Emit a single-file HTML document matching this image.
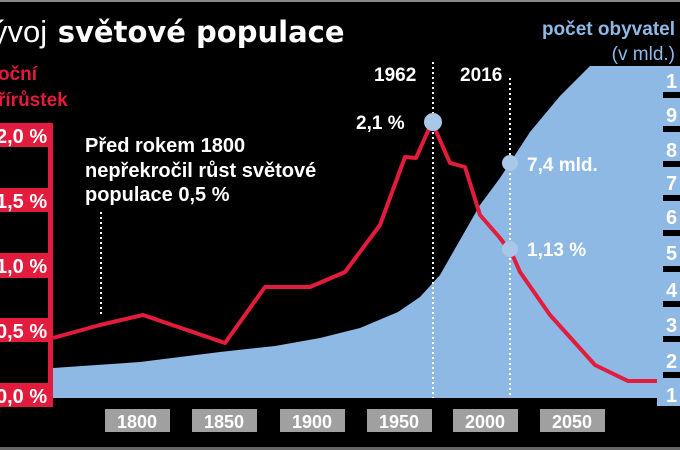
<!DOCTYPE html>
<html><head><meta charset="utf-8"><style>
body{margin:0;background:#000;}
svg{display:block;font-family:"Liberation Sans","DejaVu Sans",sans-serif;}
</style></head><body>
<svg width="680" height="450" viewBox="0 0 680 450">
<rect width="680" height="450" fill="#000"/>
<rect x="0" y="0" width="680" height="2" fill="#888"/>
<text x="-8" y="42" font-size="31" fill="#fff">ývoj <tspan font-weight="bold" font-family="DejaVu Sans" font-size="29" dx="2">světové populace</tspan></text>
<text x="-2" y="80" font-size="19" font-weight="bold" fill="#e31b3c">oční</text>
<text x="-2" y="106" font-size="19" font-weight="bold" fill="#e31b3c">řírůstek</text>
<text x="675" y="35" font-size="19" font-weight="bold" fill="#8db9e4" text-anchor="end">počet obyvatel</text>
<text x="675" y="60" font-size="19" fill="#8db9e4" text-anchor="end">(v mld.)</text>
<path d="M53,368 L140,362 L220,352 L275,346 L320,338 L360,328 L398,312 L420,297 L440,275 L460,240 L480,205 L500,178 L530,132 L560,96 L590,66 L680,66 L680,398 L53,398 Z" fill="#8db9e4"/>
<rect x="657" y="66" width="23" height="340" fill="#8db9e4"/>
<g fill="#000">
<rect x="663" y="92" width="17" height="6"/><rect x="663" y="126" width="17" height="6"/><rect x="663" y="161" width="17" height="6"/><rect x="663" y="195" width="17" height="6"/><rect x="663" y="230" width="17" height="6"/><rect x="663" y="266" width="17" height="6"/><rect x="663" y="301" width="17" height="6"/><rect x="663" y="336" width="17" height="6"/><rect x="663" y="372" width="17" height="6"/>
</g>
<g fill="#fff" font-size="20" font-weight="bold">
<text x="666" y="88">1</text><text x="666" y="122">9</text><text x="666" y="157">8</text><text x="666" y="190">7</text><text x="666" y="224">6</text><text x="666" y="260">5</text><text x="666" y="297">4</text><text x="666" y="332">3</text><text x="666" y="368">2</text><text x="666" y="402">1</text>
</g>
<rect x="0" y="398" width="657" height="52" fill="#000"/>
<rect x="0" y="447" width="680" height="3" fill="#666"/>
<g stroke="#fff" stroke-width="2" stroke-dasharray="2,3">
<line x1="101" y1="212" x2="101" y2="316"/>
<line x1="433" y1="62" x2="433" y2="398"/>
<line x1="510" y1="78" x2="510" y2="398"/>
</g>
<polyline fill="none" stroke="#e31b3c" stroke-width="4" stroke-linejoin="round" points="53,338 100,325 143,315 225,343 265,287 310,287 345,272 380,225 405,157 416,158 432,122 450,163 465,167 480,215 500,238 512,254 520,272 550,315 595,365 628,381 657,381"/>
<circle cx="433" cy="122" r="9" fill="#a9c8e8"/>
<circle cx="510" cy="163" r="8" fill="#a9c8e8"/>
<circle cx="510" cy="249" r="8" fill="#a9c8e8"/>
<g fill="#fff" font-size="19" font-weight="bold">
<text x="374" y="81">1962</text><text x="460" y="81">2016</text>
<text x="356" y="129">2,1 %</text>
<text x="527" y="171">7,4 mld.</text>
<text x="527" y="256">1,13 %</text>
<text x="85" y="152" font-size="20">Před rokem 1800</text>
<text x="85" y="177" font-size="20">nepřekročil růst světové</text>
<text x="85" y="201" font-size="20">populace 0,5 %</text>
</g>
<rect x="48" y="123" width="5" height="284" fill="#e31b3c"/>
<g fill="#e31b3c">
<rect x="0" y="123" width="53" height="24"/><rect x="0" y="188" width="53" height="24"/><rect x="0" y="253" width="53" height="25"/><rect x="0" y="318" width="53" height="24"/><rect x="0" y="383" width="53" height="24"/>
</g>
<g fill="#fff" font-size="20" font-weight="bold">
<text x="-4" y="143">2,0 %</text><text x="-4" y="208">1,5 %</text><text x="-4" y="273">1,0 %</text><text x="-4" y="338">0,5 %</text><text x="-4" y="403">0,0 %</text>
</g>
<g fill="#a0a0a0">
<rect x="105" y="409" width="65" height="23"/><rect x="192" y="409" width="65" height="23"/><rect x="280" y="409" width="65" height="23"/><rect x="367" y="409" width="65" height="23"/><rect x="453" y="409" width="65" height="23"/><rect x="540" y="409" width="65" height="23"/>
</g>
<g fill="#fff" font-size="18" font-weight="bold" text-anchor="middle">
<text x="137" y="428">1800</text><text x="224" y="428">1850</text><text x="312" y="428">1900</text><text x="399" y="428">1950</text><text x="485" y="428">2000</text><text x="572" y="428">2050</text>
</g>
</svg>
</body></html>
